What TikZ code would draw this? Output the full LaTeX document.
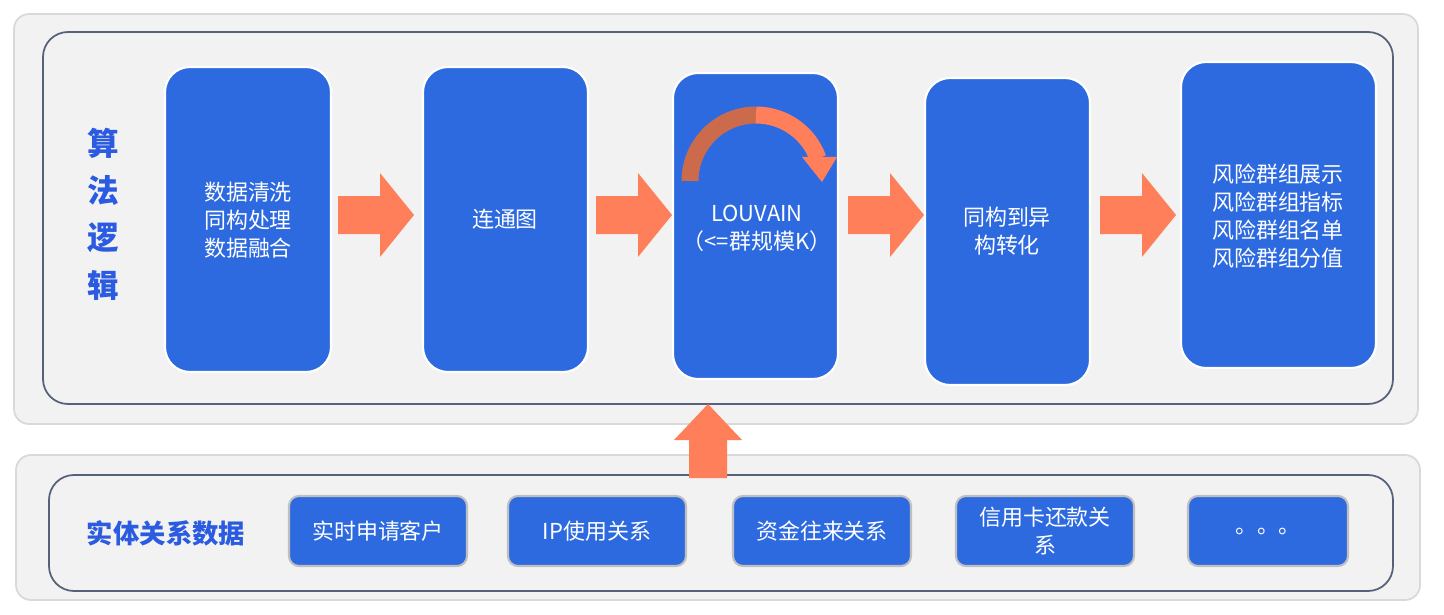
\documentclass[tikz,border=0pt]{standalone}
\usepackage{fontspec}
\newfontfamily\cjk{Noto Sans CJK SC}
\definecolor{bx}{HTML}{2D6AE0}
\definecolor{pan}{HTML}{F2F2F2}
\definecolor{inb}{HTML}{56617A}
\definecolor{org}{HTML}{FF7F5A}
\definecolor{orgd}{HTML}{CC6A4C}
\definecolor{lab}{HTML}{2A5BE0}
\begin{document}
\begin{tikzpicture}[x=0.02cm,y=-0.02cm,
  outer/.style={draw=black!15,line width=1pt,fill=pan,rounded corners=0.3cm},
  inner/.style={draw=inb,line width=1pt,rounded corners=0.5cm},
  stepbox/.style={fill=bx,draw=white,line width=1.2pt,rounded corners=0.5cm},
  src/.style={fill=bx,draw=black!25,line width=1.2pt,rounded corners=0.2cm},
  txt/.style={text=white,font=\cjk\fontsize{12.5}{16}\selectfont,align=center},
  blk/.style={fill=org,draw=none}]
\useasboundingbox (0,0) rectangle (1444,615);
\fill[white] (0,0) rectangle (1444,615);
\draw[outer] (14,14) rectangle (1418,424);
\draw[inner] (43,32) rectangle (1393,404);
\draw[outer] (16,455) rectangle (1420,600);
\draw[inner] (49,475) rectangle (1393,591);
\node[text=lab,font=\cjk\bfseries\fontsize{18}{27}\selectfont,align=center] (alg) at (103,214) {算\\法\\逻\\辑};
% steps
\draw[stepbox] (165,67) rectangle (331,372); \node[txt] (s1) at (248,220) {数据清洗\\同构处理\\数据融合};
\draw[stepbox] (423,67) rectangle (588,372); \node[txt] (s2) at (505,219) {连通图};
\draw[stepbox] (673,73) rectangle (838,379); \node[txt] (s3) at (757,228) {LOUVAIN\\（<=群规模K）};
\draw[stepbox] (925,78) rectangle (1090,385); \node[txt] (s4) at (1007,231) {同构到异\\构转化};
\draw[stepbox] (1181,62) rectangle (1376,368); \node[txt] (s5) at (1278,216) {风险群组展示\\风险群组指标\\风险群组名单\\风险群组分值};
% block arrows
\foreach \a in {338,596,848,1100}{
  \fill[blk] (\a,196) -- (\a+42,196) -- (\a+42,173) -- (\a+76,215) -- (\a+42,257) -- (\a+42,234) -- (\a,234) -- cycle;}
\fill[blk] (689,478) -- (689,440) -- (674,440) -- (708,404) -- (742,440) -- (727,440) -- (727,478) -- cycle;
% curved arrow
\draw[orgd,line width=0.34cm] (690,181) arc[start angle=180,end angle=270,radius=66];
\draw[org,line width=0.34cm] (756,115) arc[start angle=270,end angle=340,radius=66];
\fill[org] (802,157) -- (837,157) -- (822,182) -- cycle;
% bottom
\node[text=lab,font=\cjk\bfseries\fontsize{15}{18}\selectfont] (ent) at (166,533) {实体关系数据};
\draw[src] (289,496) rectangle (467,566); \node[txt] (b1) at (378,531) {实时申请客户};
\draw[src] (508,496) rectangle (686,566); \node[txt] (b2) at (597,531) {IP使用关系};
\draw[src] (733,496) rectangle (911,566); \node[txt] (b3) at (822,531) {资金往来关系};
\draw[src] (956,496) rectangle (1134,566); \node[txt] (b4) at (1045,531) {信用卡还款关\\系};
\draw[src] (1188,496) rectangle (1348,566); \node[txt] (b5) at (1268,531) {。。。};
\end{tikzpicture}
\end{document}
